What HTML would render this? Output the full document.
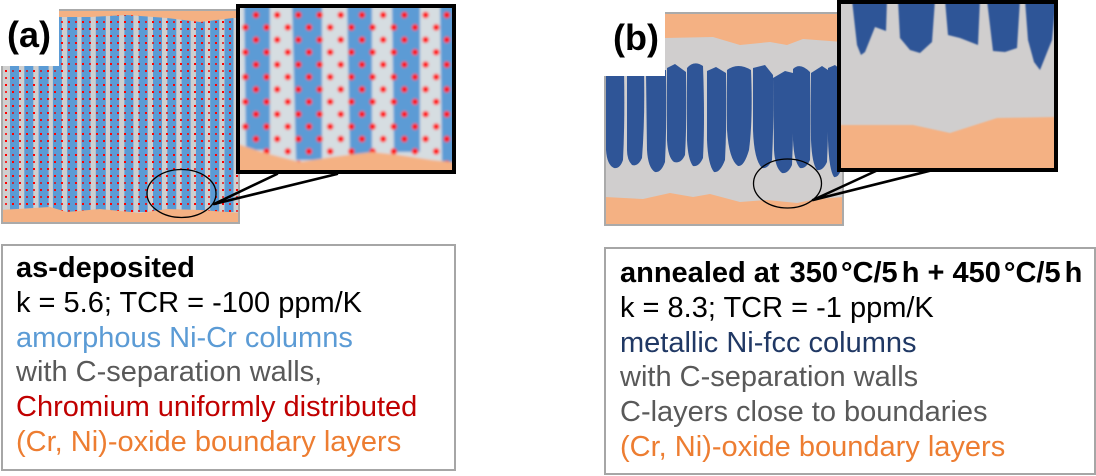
<!DOCTYPE html>
<html><head><meta charset="utf-8"><style>
html,body{margin:0;padding:0;background:#fff;}
body{width:1096px;height:476px;position:relative;overflow:hidden;font-family:"Liberation Sans",Arial,sans-serif;}
svg{position:absolute;left:0;top:0;}
.box{position:absolute;box-sizing:border-box;border:2px solid #a6a6a6;font-size:29px;line-height:34.75px;white-space:nowrap;background:transparent;}
.bd{font-weight:bold;color:#000}
.k{color:#000}
.bl{color:#5b9bd5}
.nv{color:#203864}
.gr{color:#595959}
.rd{color:#c00000}
.or{color:#ed7d31}
.t{display:inline-block;width:3px}
.t4{display:inline-block;width:4px}
.t10{display:inline-block;width:10px}
</style></head><body>
<svg width="1096" height="476" viewBox="0 0 1096 476">
<defs>
 <pattern id="rd" width="14" height="14" patternUnits="userSpaceOnUse" x="3" y="12">
  <rect x="2" y="2" width="2" height="2" fill="#ff0000"/>
  <rect x="9" y="2" width="2" height="2" fill="#ee0000" opacity=".7"/>
  <rect x="2" y="9" width="2" height="2" fill="#ff0000" opacity=".8"/>
  <rect x="9" y="9" width="2" height="2" fill="#ff0000"/>
 </pattern>
 <pattern id="rd2" width="21.2" height="24.8" patternUnits="userSpaceOnUse" x="240" y="8.8">
  <circle cx="16" cy="6.2" r="3.2" fill="#ff0a0a"/>
  <circle cx="5.4" cy="18.6" r="3.2" fill="#ff0a0a"/>
 </pattern>
 <clipPath id="ca"><rect x="240" y="8" width="212" height="162"/></clipPath>
 <clipPath id="cb"><rect x="841" y="4" width="213" height="164"/></clipPath>
 <clipPath id="ma"><rect x="2" y="11" width="237" height="211"/></clipPath>
 <filter id="bl" x="-10%" y="-10%" width="120%" height="120%"><feGaussianBlur stdDeviation="1.4"/></filter>
 <filter id="bl2" x="-10%" y="-10%" width="120%" height="120%"><feGaussianBlur stdDeviation="0.8"/></filter>
</defs>

<!-- ===== Panel (a) main ===== -->
<g clip-path="url(#ma)">
 <rect x="1" y="10" width="239" height="213" fill="#cfcfcf"/>
 <g fill="#5b9bd5">
  <rect x="10" y="15" width="9" height="197"/>
  <rect x="24.3" y="15" width="9" height="197"/>
  <rect x="38.6" y="15" width="10" height="197"/>
  <rect x="52.9" y="15" width="9" height="197"/>
  <rect x="67.2" y="15" width="10" height="197"/>
  <rect x="81.5" y="15" width="9" height="197"/>
  <rect x="95.8" y="15" width="10" height="197"/>
  <rect x="110.1" y="15" width="9" height="197"/>
  <rect x="124.4" y="15" width="9" height="197"/>
  <rect x="138.7" y="15" width="9" height="197"/>
  <rect x="153" y="15" width="9" height="197"/>
  <rect x="167.3" y="15" width="9" height="197"/>
  <rect x="181.6" y="15" width="9" height="197"/>
  <rect x="195.9" y="15" width="9" height="197"/>
  <rect x="210.2" y="15" width="9" height="197"/>
  <rect x="224.5" y="15" width="9" height="197"/>
 </g>
 <rect x="1" y="10" width="239" height="213" fill="url(#rd)"/>
 <path d="M0,9 H241 V18 L233,18 L200,22 L167,18 L127,15 L90,17 L59,17 L0,17 Z" fill="#f4b183"/>
 <path d="M0,210 L50,207 L67,212 L100,209 L140,213 L167,209 L200,210 L241,213 V224 H0 Z" fill="#f4b183"/>
</g>
<rect x="2" y="10" width="237" height="213" fill="none" stroke="#aaaaaa" stroke-width="2"/>
<rect x="0" y="0" width="59" height="66" fill="#fff"/>
<text x="7" y="47" font-family="Liberation Sans, Arial, sans-serif" font-weight="bold" font-size="36" fill="#000">(a)</text>

<!-- ===== Inset (a) ===== -->
<g clip-path="url(#ca)">
 <g filter="url(#bl)">
  <rect x="232" y="0" width="230" height="180" fill="#d6dde1"/>
  <g fill="#5b9bd5">
   <path d="M244,0 H270 V150 H246 Z"/>
   <path d="M292,0 H322 V160 H296 Z"/>
   <path d="M347,0 H372 V155 H350 Z"/>
   <path d="M392,0 H420 V152 H394 Z"/>
   <path d="M440,0 H460 V165 H442 Z"/>
  </g>
  <rect x="232" y="0" width="230" height="180" fill="url(#rd2)"/>
  <path d="M232,142 L265,153 L300,162 L332,157 L372,152 L399,155 L432,160 L460,163 V180 H232 Z" fill="#f4b183"/>
 </g>
</g>
<rect x="238" y="6" width="216" height="166" fill="none" stroke="#000" stroke-width="4"/>

<!-- connector (a) -->
<ellipse cx="181.5" cy="193.5" rx="34.5" ry="24" fill="none" stroke="#000" stroke-width="1.3"/>
<path d="M214,204 L277,174 M214,204 L337,174" stroke="#000" stroke-width="2.6" fill="none" stroke-linecap="round"/>

<!-- ===== Panel (b) main ===== -->
<rect x="605" y="13" width="238" height="212" fill="#d0cece"/>
<path d="M605,13 H843 V42 L803,39 L787,45 L770,42 L740,45 L713,37 L665,38 L605,38 Z" fill="#f4b183"/>
<path d="M605,197 L643,199 L670,193 L693,197 L710,194 L740,202 L767,200 L797,203 L817,199 L843,197 V225 H605 Z" fill="#f4b183"/>
<g fill="#2f5597">
 <path d="M606,70 L624,70 Q625,120 623,160 Q620,169 614,168 Q607,165 606,150 Z"/>
 <path d="M627,70 L644,72 Q645,120 642,158 Q638,167 632,165 Q627,160 627,150 Z"/>
 <path d="M646,72 L666,70 Q667,120 665,162 Q661,173 655,172 Q648,168 647,150 Z"/>
 <path d="M667,68 L675,64 L686,72 Q687,120 685,155 Q681,164 674,162 Q668,158 667,140 Z"/>
 <path d="M687,68 Q694,60 703,66 Q705,120 703,158 Q699,167 693,166 Q688,160 687,140 Z"/>
 <path d="M707,71 L716,67 L726,73 Q727,120 725,160 Q720,173 714,172 Q708,165 707,140 Z"/>
 <path d="M727,70 Q738,62 751,70 Q753,120 749,150 Q744,167 738,166 Q729,160 727,130 Z"/>
 <path d="M753,68 L765,65 L773,75 Q774,120 772,160 Q768,169 762,168 Q754,160 753,130 Z"/>
 <path d="M773,78 L785,71 L793,73 Q794,120 792,165 Q788,174 782,173 Q775,168 774,150 Z"/>
 <path d="M793,69 Q800,62 810,72 Q811,120 810,160 Q806,169 800,168 Q794,162 793,140 Z"/>
 <path d="M811,73 L822,66 L828,70 Q829,120 827,162 Q823,171 817,170 Q812,164 811,140 Z"/>
 <path d="M828,68 L835,65 L841,70 Q843,120 841,170 Q838,178 834,177 Q829,170 828,140 Z"/>
</g>
<rect x="605" y="13" width="238" height="212" fill="none" stroke="#aaaaaa" stroke-width="2"/>
<rect x="589" y="0" width="76" height="76" fill="#fff"/>
<text x="613" y="50" font-family="Liberation Sans, Arial, sans-serif" font-weight="bold" font-size="36" fill="#000">(b)</text>

<!-- ===== Inset (b) ===== -->
<g clip-path="url(#cb)">
 <rect x="836" y="0" width="224" height="175" fill="#d0cece"/>
 <g fill="#2f5597" filter="url(#bl2)">
  <path d="M852,0 L887,0 L886,31 L875,27 L865,52 L861,55 L857,45 Z"/>
  <path d="M898,0 L935,0 L932,42 L920,53 L910,50 L900,38 Z"/>
  <path d="M945,0 L980,0 L978,45 L960,38 L948,35 Z"/>
  <path d="M987,0 L1020,0 L1017,48 L1005,52 L993,51 Z"/>
  <path d="M1025,0 L1056,0 L1052,40 L1040,70 L1034,62 L1028,40 Z"/>
 </g>
 <path d="M836,125 L913,125 L950,133 L997,118 L1060,117 V175 H836 Z" fill="#f4b183" filter="url(#bl2)"/>
</g>
<rect x="839" y="2" width="217" height="168" fill="none" stroke="#000" stroke-width="4"/>

<!-- connector (b) -->
<ellipse cx="787.5" cy="183.5" rx="34" ry="24.5" fill="none" stroke="#000" stroke-width="1.3"/>
<path d="M813,200 L878,170 M813,200 L933,170" stroke="#000" stroke-width="2.6" fill="none" stroke-linecap="round"/>
</svg>

<div class="box" style="left:1px;top:244px;width:455px;height:227px;padding:5px 0 0 13px;">
<div class="bd">as-deposited</div>
<div class="k">k = 5.6; TCR = -100 ppm/K</div>
<div class="bl">amorphous Ni-Cr columns</div>
<div class="gr">with C-separation walls,</div>
<div class="rd">Chromium uniformly distributed</div>
<div class="or">(Cr, Ni)-oxide boundary layers</div>
</div>

<div class="box" style="left:604px;top:247px;width:492px;height:228px;padding:7px 0 0 14px;">
<div class="bd">annealed at<span class="t10"></span>350<span class="t"></span>°C/5<span class="t4"></span>h + 450<span class="t"></span>°C/5<span class="t4"></span>h</div>
<div class="k">k = 8.3; TCR = -1 ppm/K</div>
<div class="nv">metallic Ni-fcc columns</div>
<div class="gr">with C-separation walls</div>
<div class="gr">C-layers close to boundaries</div>
<div class="or">(Cr, Ni)-oxide boundary layers</div>
</div>
</body></html>
